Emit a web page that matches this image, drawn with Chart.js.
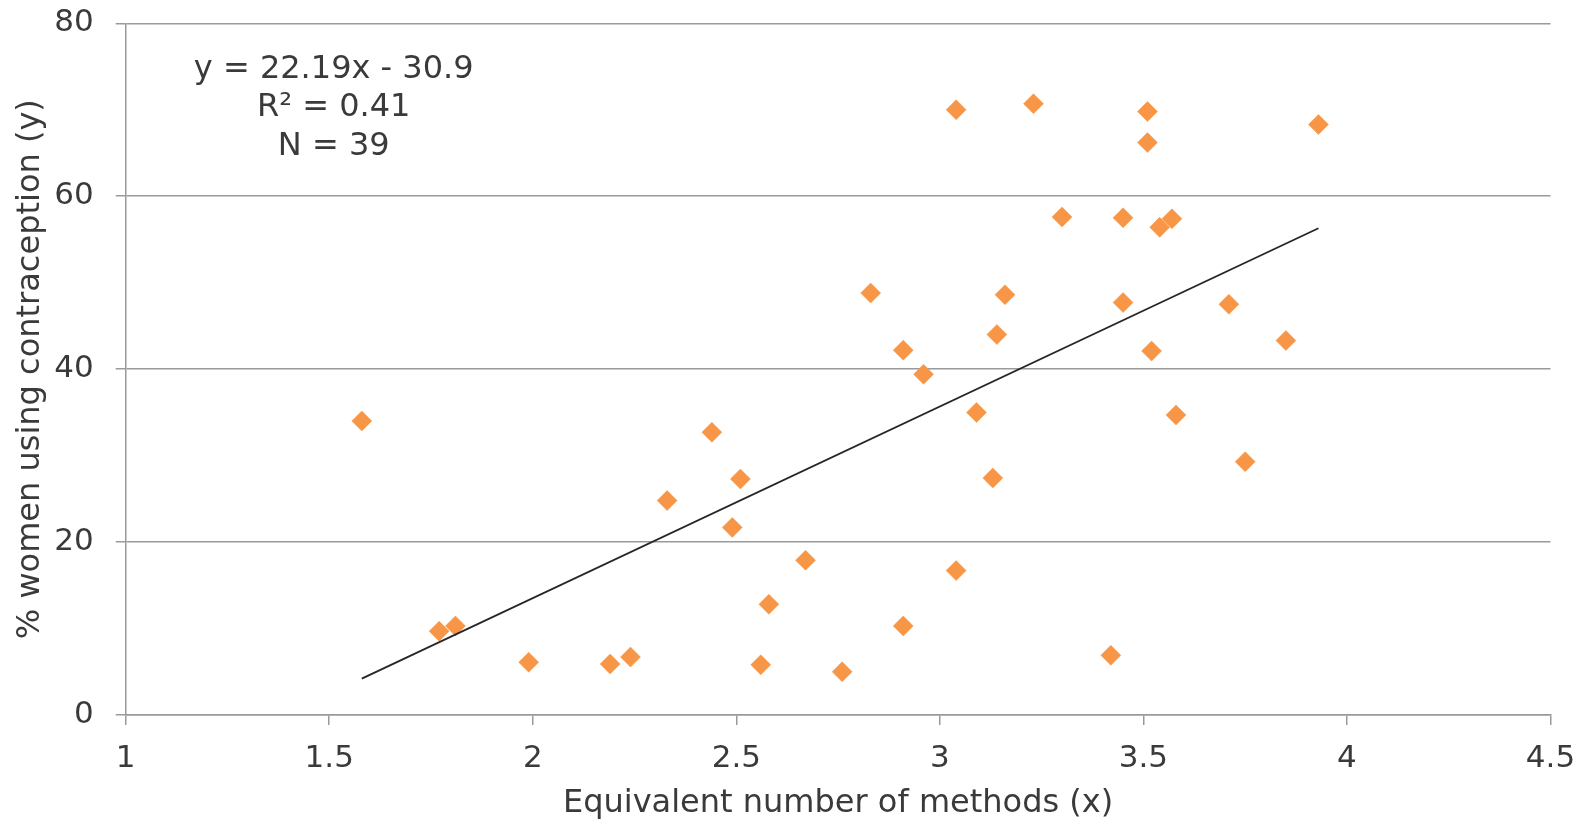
<!DOCTYPE html>
<html>
<head>
<meta charset="utf-8">
<style>
    body { margin: 0; background: #fff; }
    #wrap { width: 1590px; height: 824px; }
</style>
</head>
<body>
<div id="wrap"><canvas id="myChart" width="1590" height="824"></canvas></div>
<script src="https://cdn.jsdelivr.net/npm/chart.js@4.4.2/dist/chart.umd.min.js"></script>
<script>
// values
const methodsX = [1.58, 1.77, 1.81, 1.99, 2.19, 2.24, 2.33, 2.44, 2.49, 2.51,
    2.56, 2.58, 2.67, 2.76, 2.83, 2.91, 2.91, 2.96, 3.04, 3.04,
    3.09, 3.13, 3.14, 3.16, 3.23, 3.30, 3.42, 3.45, 3.45, 3.51,
    3.51, 3.52, 3.54, 3.57, 3.58, 3.71, 3.75, 3.85, 3.93];
const contraceptionY = [34.0, 9.7, 10.3, 6.1, 5.9, 6.7, 24.8, 32.7, 21.7, 27.3,
    5.8, 12.8, 17.9, 5.0, 48.8, 42.2, 10.3, 39.4, 70.0, 16.7,
    35.0, 27.4, 44.0, 48.6, 70.7, 57.6, 6.9, 57.5, 47.7, 69.8,
    66.2, 42.1, 56.4, 57.4, 34.7, 47.5, 29.3, 43.3, 68.3];

// trend line end points
const trendX = [1.58, 3.93];
const trendY = [4.2, 56.3];

const xTickLabels = ['1', '1.5', '2', '2.5', '3', '3.5', '4', '4.5'];
const yTickLabels = ['0', '20', '40', '60', '80'];
const annotationLines = ['y = 22.19x - 30.9', 'R\u00b2 = 0.41', 'N = 39'];

const FONT = "'DejaVu Sans', Verdana, sans-serif";
const TEXT = '#3a3a3a';
const GRID = '#9a9a9a';

const points = methodsX.map((x, i) => ({ x: x, y: contraceptionY[i] }));
const trend = trendX.map((x, i) => ({ x: x, y: trendY[i] }));

// draws the regression text in the upper left of the plot
const equationText = {
    id: 'equationText',
    afterDatasetsDraw(chart) {
        const ctx = chart.ctx;
        const area = chart.chartArea;
        ctx.save();
        ctx.font = '32px ' + FONT;
        ctx.fillStyle = TEXT;
        ctx.textAlign = 'center';
        ctx.textBaseline = 'middle';
        annotationLines.forEach((line, i) => {
            ctx.fillText(line, area.left + 208, area.top + 46 + i * 38.5);
        });
        ctx.restore();
    }
};

const data = {
    datasets: [
        {
            label: 'Trend',
            data: trend,
            type: 'line',
            showLine: true,
            borderColor: '#262626',
            borderWidth: 1.8,
            pointRadius: 0,
            fill: false
        },
        {
            label: 'Countries',
            data: points,
            pointStyle: 'rectRot',
            pointRadius: 10,
            pointBackgroundColor: '#f79646',
            pointBorderColor: '#f79646',
            pointBorderWidth: 0.5
        }
    ]
};

const config = {
    type: 'scatter',
    data,
    options: {
        responsive: false,
        animation: false,
        layout: {
            padding: { left: 0, top: 23.3, right: 39.5, bottom: 0 }
        },
        plugins: {
            legend: { display: false },
            tooltip: { enabled: false }
        },
        scales: {
            x: {
                type: 'linear',
                min: 1,
                max: 4.5,
                afterFit: (scale) => {
                    scale.height = 109;
                    scale.paddingLeft = 0;
                    scale.paddingRight = 0;
                },
                afterBuildTicks: (scale) => {
                    scale.ticks = xTickLabels.map(t => ({ value: parseFloat(t) }));
                },
                ticks: {
                    callback: (v) => xTickLabels.find(t => parseFloat(t) === v),
                    color: TEXT,
                    font: { family: FONT, size: 31 },
                    padding: 15,
                    maxRotation: 0,
                    autoSkip: false
                },
                grid: {
                    drawOnChartArea: false,
                    drawTicks: true,
                    tickLength: 10,
                    color: GRID,
                    lineWidth: 1.5
                },
                border: { color: GRID, width: 1.5 },
                title: {
                    display: true,
                    text: 'Equivalent number of methods (x)',
                    color: TEXT,
                    font: { family: FONT, size: 32 },
                    padding: { top: 0, bottom: 1 }
                }
            },
            y: {
                type: 'linear',
                min: 0,
                max: 80,
                afterFit: (scale) => {
                    scale.width = 125.7;
                    scale.paddingTop = 0;
                    scale.paddingBottom = 0;
                },
                afterBuildTicks: (scale) => {
                    scale.ticks = yTickLabels.map(t => ({ value: parseFloat(t) }));
                },
                ticks: {
                    callback: (v) => String(v),
                    color: TEXT,
                    font: { family: FONT, size: 31 },
                    padding: 22
                },
                grid: {
                    drawTicks: true,
                    tickLength: 10,
                    color: GRID,
                    lineWidth: 1.5
                },
                border: { color: GRID, width: 1.5 },
                title: {
                    display: true,
                    text: '% women using contraception (y)',
                    color: TEXT,
                    font: { family: FONT, size: 32 },
                    padding: { top: 11, bottom: 0 }
                }
            }
        }
    },
    plugins: [equationText]
};

const myChart = new Chart(document.getElementById('myChart'), config);
</script>
</body>
</html>
